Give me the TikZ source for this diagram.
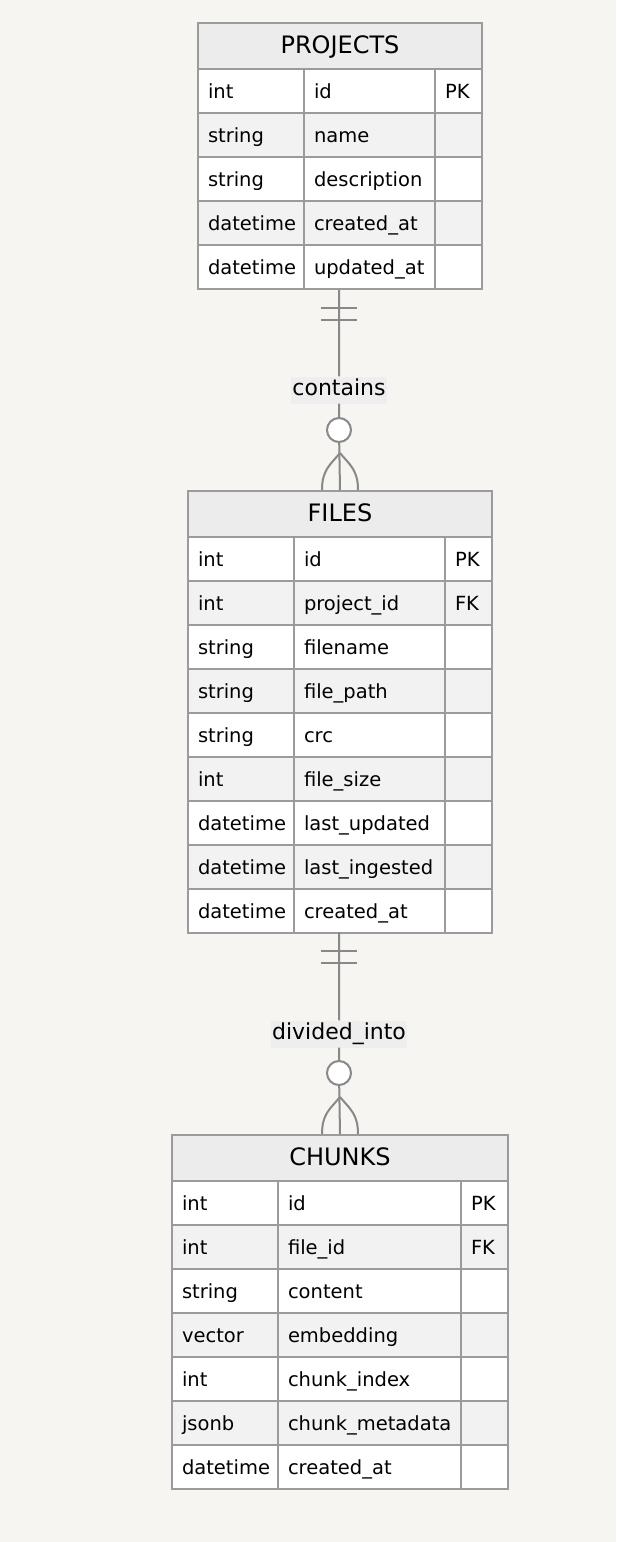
\documentclass[tikz,border=0pt]{standalone}
\usepackage{fontspec}
\setmainfont{DejaVu Sans}
\definecolor{bg}{HTML}{F6F5F2}
\definecolor{headgray}{HTML}{ECECEC}
\definecolor{rowgray}{HTML}{F2F2F2}
\definecolor{tableline}{HTML}{9B9B9B}
\definecolor{relline}{HTML}{888888}
\definecolor{labelgray}{HTML}{EEEEEE}

\begin{document}
\begin{tikzpicture}[x=1pt,y=-1pt,
    head/.style={draw=tableline,line width=2pt,fill=headgray,anchor=north west,inner sep=0,minimum width=#1,minimum height=46,text height=17,text depth=3,font=\fontsize{24}{28}\selectfont},
    cell/.style={draw=tableline,line width=2pt,anchor=north west,inner xsep=10,inner ysep=0,text width=#1,align=left,minimum height=44,text height=16,text depth=2,font=\fontsize{19.5}{23}\selectfont},
    rel/.style={draw=relline,line width=2pt},
    rel label/.style={fill=labelgray,inner xsep=1.5,inner ysep=0,minimum height=27,text height=16,text depth=5,font=\fontsize{22}{26}\selectfont},
    zero/.style={circle,draw=relline,line width=2pt,fill=white,minimum size=24,inner sep=0}]
    \path[use as bounding box,fill=bg] (0,0) rectangle (616,1542);

    % PROJECTS
    \node[head=284] (projects) at (197,22) {PROJECTS};
    \foreach \t/\f/\k [count=\i] in {int/id/PK, string/name/, string/description/, datetime/created\_at/, datetime/updated\_at/}{
        \ifodd\i\def\rc{white}\else\def\rc{rowgray}\fi
        \node[cell=86,fill=\rc] (p\i-type) at (197,24+44*\i) {\t};
        \node[cell=111,fill=\rc] (p\i-name) at (303,24+44*\i) {\f};
        \node[cell=27,fill=\rc] (p\i-key) at (434,24+44*\i) {\k};
    }
    \coordinate (p-end) at (339,290);

    % FILES
    \node[head=304] (files) at (187,490) {FILES};
    \foreach \t/\f/\k [count=\i] in {int/id/PK, int/project\_id/FK, string/filename/, string/file\_path/, string/crc/, int/file\_size/, datetime/last\_updated/, datetime/last\_ingested/, datetime/created\_at/}{
        \ifodd\i\def\rc{white}\else\def\rc{rowgray}\fi
        \node[cell=86,fill=\rc] (f\i-type) at (187,492+44*\i) {\t};
        \node[cell=131,fill=\rc] (f\i-name) at (293,492+44*\i) {\f};
        \node[cell=27,fill=\rc] (f\i-key) at (444,492+44*\i) {\k};
    }
    \coordinate (f-end) at (339,932);

    % CHUNKS
    \node[head=336] (chunks) at (171,1134) {CHUNKS};
    \foreach \t/\f/\k [count=\i] in {int/id/PK, int/file\_id/FK, string/content/, vector/embedding/, int/chunk\_index/, jsonb/chunk\_metadata/, datetime/created\_at/}{
        \ifodd\i\def\rc{white}\else\def\rc{rowgray}\fi
        \node[cell=86,fill=\rc] (c\i-type) at (171,1136+44*\i) {\t};
        \node[cell=163,fill=\rc] (c\i-name) at (277,1136+44*\i) {\f};
        \node[cell=27,fill=\rc] (c\i-key) at (460,1136+44*\i) {\k};
    }

    % relationships
    \node[rel label] (contains) at (339,390) {contains};
    \node[zero] (z1) at (339,430) {};
    \draw[rel] (p-end) -- (contains) -- (z1) -- (files.north);
    \draw[rel] (p-end) ++(-18,18) -- ++(36,0) (p-end) ++(-18,30) -- ++(36,0);
    \draw[rel] (files.north) ++(-18,0) .. controls +(0,-20) and +(-10,12) .. ++(18,-37);
    \draw[rel] (files.north) ++(18,0) .. controls +(0,-20) and +(10,12) .. ++(-18,-37);

    \node[rel label] (divided) at (339,1034) {divided\_into};
    \node[zero] (z2) at (339,1073) {};
    \draw[rel] (f-end) -- (divided) -- (z2) -- (chunks.north);
    \draw[rel] (f-end) ++(-18,19) -- ++(36,0) (f-end) ++(-18,31) -- ++(36,0);
    \draw[rel] (chunks.north) ++(-18,0) .. controls +(0,-20) and +(-10,12) .. ++(18,-37);
    \draw[rel] (chunks.north) ++(18,0) .. controls +(0,-20) and +(10,12) .. ++(-18,-37);
\end{tikzpicture}
\end{document}
